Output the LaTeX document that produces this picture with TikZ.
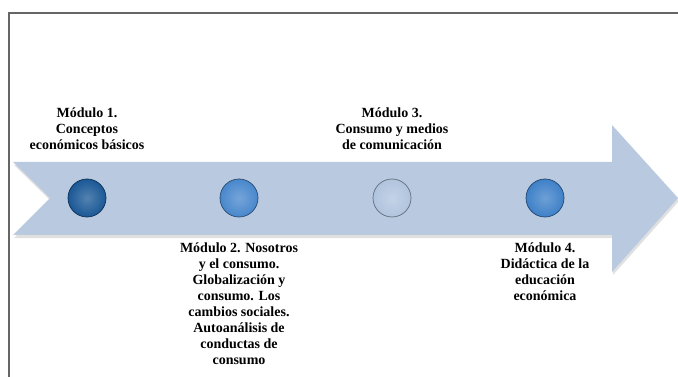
\documentclass[tikz,border=0pt]{standalone}
\usepackage{fontspec}
\setmainfont{Liberation Serif}
\usetikzlibrary{positioning}
\definecolor{arrowblue}{RGB}{184,201,224}
\definecolor{modone}{RGB}{26,88,150}
\definecolor{modtwo}{RGB}{72,135,204}
\definecolor{modthree}{RGB}{176,196,222}
\definecolor{modfour}{RGB}{62,128,200}
\tikzset{
  modball/.style={circle, minimum width=37pt, minimum height=38pt, inner sep=0pt, draw=#1!55!black, line width=0.7pt,
    inner color=#1!75!white, outer color=#1},
  modtext/.style={font=\bfseries\fontsize{14}{15.9}\selectfont, align=center, inner sep=0pt}
}
\begin{document}
\begin{tikzpicture}[x=1pt, y=-1pt]
	\useasboundingbox (0,0) rectangle (678,377);
	\draw [black!60, line width=1.3pt] (9,377) -- (9,13) -- (678,13);

	% timeline arrow
	\fill [black!12] (14,165) -- (613,165) -- (613,128) -- (679,201) -- (613,275) -- (613,238) -- (14,238) -- (51,201) -- cycle;
	\fill [arrowblue] (13,162) -- (612,162) -- (612,125) -- (678,198) -- (612,272) -- (612,235) -- (13,235) -- (50,198) -- cycle;

	\node [modball=modone] (m1) at (87,198) {};
	\node [modball=modtwo] (m2) at (239,198) {};
	\node [modball=modthree] (m3) at (392,198) {};
	\node [modball=modfour] (m4) at (545,198) {};

	\node [modtext, anchor=south] (t1) at (87,150) {Módulo 1.\\Conceptos\\económicos básicos};
	\node [modtext, anchor=south] (t3) at (392,150) {Módulo 3.\\Consumo y medios\\de comunicación};
	\node [modtext, anchor=north] (t2) at (239,243) {Módulo 2. Nosotros\\y el consumo.\\Globalización y\\consumo. Los\\cambios sociales.\\Autoanálisis de\\conductas de\\consumo};
	\node [modtext, anchor=north] (t4) at (545,243) {Módulo 4.\\Didáctica de la\\educación\\económica};
\end{tikzpicture}
\end{document}
